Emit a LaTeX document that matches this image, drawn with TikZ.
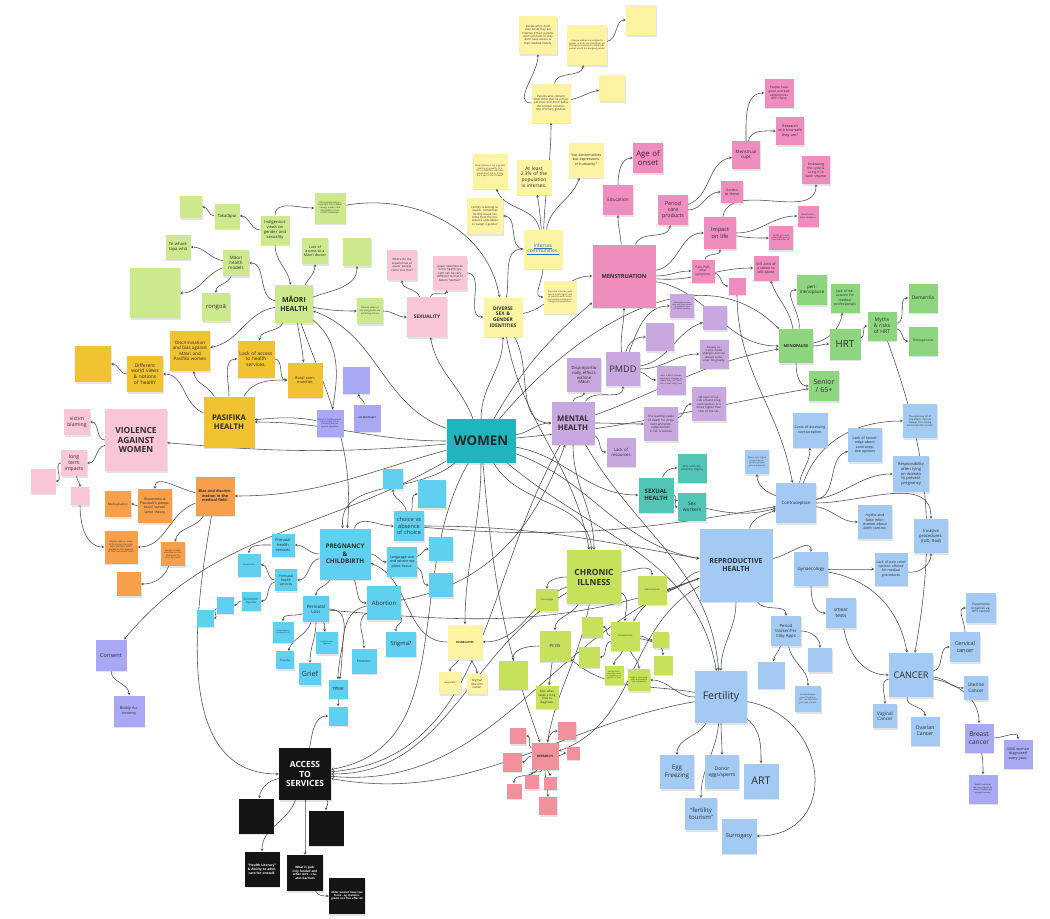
\documentclass[tikz,border=0pt]{standalone}
\usepackage{fontspec}
\setmainfont{Open Sans}
\usepackage{tikz}
\usetikzlibrary{arrows,shadows}

\definecolor{womenc}{HTML}{1FB5BF}
\definecolor{maoc}{HTML}{CDE98D}
\definecolor{pasc}{HTML}{F1C231}
\definecolor{vioc}{HTML}{F8C6D6}
\definecolor{orac}{HTML}{F7A04C}
\definecolor{purc}{HTML}{A9A8F5}
\definecolor{prgc}{HTML}{5FD0F0}
\definecolor{yelc}{HTML}{FCF3A3}
\definecolor{menc}{HTML}{EE8DBE}
\definecolor{mntc}{HTML}{C9A8DF}
\definecolor{sxhc}{HTML}{52C5B6}
\definecolor{mnpc}{HTML}{8ED580}
\definecolor{chrc}{HTML}{C6E25D}
\definecolor{resc}{HTML}{F1919C}
\definecolor{repc}{HTML}{A2CAF2}
\definecolor{brcc}{HTML}{A8A9F3}
\definecolor{linkc}{HTML}{2F6FC9}
\definecolor{inkc}{HTML}{2D2D2D}

\newcommand{\fs}[1]{\fontsize{#1}{\fpeval{1.18*#1}}\selectfont}

\pgfdeclarelayer{background}
\pgfsetlayers{background,main}

\begin{document}
\begin{tikzpicture}[x=0.5mm, y=-0.5mm,
    sz/.code={\pgfmathsetmacro\nsw{#1*0.5}\pgfmathsetmacro\ntw{#1*0.5-1.8}%
      \edef\nsopt{minimum width=\nsw mm,minimum height=\nsw mm,text width=\ntw mm}%
      \expandafter\tikzset\expandafter{\nsopt}},
    note/.style={rectangle, align=center, inner sep=0.9mm, text=inkc, font=\fs{3},
      drop shadow={shadow xshift=0.3mm, shadow yshift=-0.8mm, opacity=0.22}},
    mao/.style={fill=maoc}, pas/.style={fill=pasc}, vio/.style={fill=vioc},
    ora/.style={fill=orac}, pur/.style={fill=purc}, prg/.style={fill=prgc},
    yel/.style={fill=yelc}, men/.style={fill=menc}, mnt/.style={fill=mntc},
    sxh/.style={fill=sxhc}, mnp/.style={fill=mnpc}, chr/.style={fill=chrc},
    res/.style={fill=resc}, rep/.style={fill=repc}, brc/.style={fill=brcc},
    acc/.style={fill=black!92, text=white},
    link/.style={->, >=stealth, line width=0.8pt, draw=black!70}]

% Māori health
\node[note, mao, sz=38, font=\bfseries\fs{10}] (maori) at (294,304) {MĀORI\\HEALTH};
\node[note, mao, sz=26, font=\fs{6.3}] (models) at (236,263) {Māori health models};
\node[note, mao, sz=29, font=\fs{5.8}] (indig) at (275,230) {Indigenous views on gender and sexuality};
\node[note, mao, sz=25, font=\fs{6}] (taka) at (227,216) {Takatāpui};
\node[note, mao, sz=22] (takan) at (191,207) {};
\node[note, mao, sz=31, font=\fs{3.1}] (transn) at (330,208) {Trans people play an important role in Māori society, holders and transmitters of ancestral knowledge.};
\node[note, mao, sz=25, font=\fs{6}] (whare) at (178,247) {Te whare tapa whā};
\node[note, mao, sz=50] (bign) at (155,293) {};
\node[note, mao, sz=28, font=\fs{8.5}] (rongoa) at (216,307) {rongoā};
\node[note, mao, sz=26, font=\fs{5.2}] (doctor) at (315,251) {Lack of access to a Māori doctor};
\node[note, mao, sz=28] (greenn) at (357,252) {};
\node[note, mao, sz=26, font=\fs{3.2}] (colonial) at (370,311) {Colonial views on sex and gender are extremely binary};

% Pasifika health
\node[note, pas, sz=51, font=\bfseries\fs{11}] (pasifika) at (229,422) {PASIFIKA\\HEALTH};
\node[note, pas, sz=40, font=\fs{6.3}] (discrim) at (190,351) {Discrimination and bias against Māori and Pasifika women};
\node[note, pas, sz=37, font=\fs{7}] (lackacc) at (256,359) {Lack of access to health services.};
\node[note, pas, sz=35, font=\fs{5.5}] (rural) at (305,380) {Rural communities};
\node[note, pas, sz=36, font=\fs{7}] (views) at (145,374) {Different world views \& notions of ‘health’};
\node[note, pas, sz=36] (goldn) at (93,364) {};
\node[note, pur, sz=27, font=\fs{2.8}] (lowlife) at (330,423) {Māori \& Pasifika women have a lower life expectancy than the general population};
\node[note, pur, sz=27] (lifen) at (356,380) {};
\node[note, pur, sz=27, font=\bfseries\fs{3}] (lifeexp) at (367,418) {LIFE EXPECTANCY};

% Violence against women
\node[note, vio, sz=62, font=\bfseries\fs{12}] (violence) at (136,440) {VIOLENCE\\AGAINST\\WOMEN};
\node[note, vio, sz=26, font=\fs{7.3}] (victim) at (77,422) {victim blaming};
\node[note, vio, sz=26, font=\fs{7.2}] (longterm) at (74,463) {long term impacts};
\node[note, vio, sz=25] (vn1) at (43,481) {};
\node[note, vio, sz=18] (vn2) at (80,496) {};

% Bias in the medical field
\node[note, ora, sz=39, font=\bfseries\fs{5.4}] (bias) at (215,496) {Bias and discrimination in the medical field.};
\node[note, ora, sz=26, font=\fs{4.2}] (medical) at (118,504) {Medicalisation};
\node[note, ora, sz=34, font=\fs{5}] (biocit) at (155,506) {Biocitizens \& Foucault’s panopticon/ surveillance theory};
\node[note, ora, sz=33, font=\fs{3.1}] (caring) at (121,547) {Women take on more of the caring roles (children, parents), which literally on the expense of their own health often};
\node[note, ora, sz=24, font=\fs{3}] (dismiss) at (173,554) {Women’s health experiences often dismissed “it’s all in her head”};
\node[note, ora, sz=24] (hysteria) at (129,584) {};

% Consent
\node[note, pur, sz=31, font=\fs{8}] (consent) at (111,655) {Consent};
\node[note, pur, sz=31, font=\fs{5.5}] (bodily) at (129,711) {Bodily Autonomy};

% Pregnancy and childbirth
\node[note, prg, sz=51, font=\bfseries\fs{9}] (preg) at (345,554) {PREGNANCY\\\&\\CHILDBIRTH};
\node[note, prg, sz=30, font=\fs{8}] (choice) at (409,526) {choice vs absence of choice};
\node[note, prg, sz=20] (cn1) at (393,479) {};
\node[note, prg, sz=28] (cn2) at (432,494) {};
\node[note, prg, sz=23, font=\fs{5.6}] (prenatal) at (283,545) {Prenatal health services};
\node[note, prg, sz=23, font=\fs{3}] (obst) at (249,565) {obstetrician};
\node[note, prg, sz=22, font=\fs{4.8}] (perinat) at (286,580) {Perinatal health services};
\node[note, prg, sz=30, font=\fs{5.3}] (lang) at (402,562) {Language use and where we place focus.};
\node[note, prg, sz=24] (ln1) at (441,549) {};
\node[note, prg, sz=24] (ln2) at (441,585) {};
\node[note, prg, sz=19, font=\fs{4.2}] (injur) at (251,601) {Child birth injuries};
\node[note, prg, sz=17] (pn1) at (225,605) {};
\node[note, prg, sz=17] (pn2) at (205,618) {};
\node[note, prg, sz=26, font=\fs{6.3}] (loss) at (316,609) {Perinatal Loss};
\node[note, prg, sz=34, font=\fs{8.5}] (abort) at (384,603) {Abortion};
\node[note, prg, sz=21, font=\fs{2.7}] (social) at (283,632) {social support (or absence of)};
\node[note, prg, sz=22, font=\fs{2.8}] (medman) at (327,643) {Medical management};
\node[note, prg, sz=18, font=\fs{4}] (trauma) at (285,660) {Trauma};
\node[note, prg, sz=22, font=\fs{10}] (grief) at (310,674) {Grief};
\node[note, prg, sz=30, minimum height=12.5mm, font=\fs{8.2}] (stigma) at (401,644) {Stigma?};
\node[note, prg, sz=25, font=\fs{4.5}] (emot) at (364,661) {Emotions};
\node[note, prg, sz=19, font=\fs{6}] (tpmr) at (338,689) {TPMR};
\node[note, prg, sz=19] (tn) at (338,716) {};

% Disabilities
\node[note, yel, sz=35, font=\bfseries\fs{4}] (disab) at (465,642) {DISABILITIES};
\node[note, yel, sz=22, font=\fs{3}] (weight) at (450,683) {Weight/BMI};
\node[note, yel, sz=20, font=\fs{4.2}] (sdisc) at (477,684) {Stigma/\\Discrimi\\nation};

% Access to services
\node[note, acc, sz=52, font=\bfseries\fs{12}] (access) at (305,774) {ACCESS\\TO\\SERVICES};
\node[note, acc, sz=35] (an1) at (256,816) {};
\node[note, acc, sz=35] (an2) at (326,828) {};
\node[note, acc, sz=35, font=\bfseries\fs{4.6}] (literacy) at (262,869) {“Health Literacy” \& Ability to advocate for oneself.};
\node[note, acc, sz=36, font=\bfseries\fs{4.3}] (funded) at (305,873) {What is publicly funded and what isn’t - creates barriers};
\node[note, acc, sz=36, font=\bfseries\fs{3.8}] (older) at (347,896) {Older women have less focus - eg mammograms not free after 69};

% Diverse sex and gender identities
\node[note, yel, sz=39, font=\bfseries\fs{7}] (diverse) at (503,317) {DIVERSE\\SEX \&\\GENDER\\IDENTITIES};
\node[note, yel, sz=39, font=\fs{7}, text=linkc] (intersex) at (543,249) {\underline{Intersex}\\\underline{communities.}};
\node[note, yel, sz=33, font=\fs{3}] (youth) at (560,297) {Trans and intersex youth have a much higher rate of mental health issues and suicide compared to the general population.};
\node[note, yel, sz=36, font=\fs{4}] (fertres) at (485,216) {Fertility is lacking research. Sometimes fertility issues can come from the procedures undertaken to ‘assign a gender’};
\node[note, yel, sz=35, font=\fs{3}] (being) at (490,171) {Being intersex is not a gender identity or sexuality. It is the I in LGBTQIA+ but often people don’t feel as if they are a part of the ‘rainbow’};
\node[note, yel, sz=35, font=\fs{7}] (atleast) at (534,177) {At least 2.3\% of the population is intersex.};
\node[note, yel, sz=35, font=\fs{5}] (notabn) at (586,160) {“not abnormalities but expressions of humanity.”};
\node[note, yel, sz=39, font=\fs{4}] (parents) at (551,103) {Parents who consent often think that its a medical issue and dont realise the societal construction of binary genders.};
\node[note, yel, sz=38, font=\fs{4}] (peopleoft) at (538,35) {People often don’t even know they are intersex if their parents don’t tell them or they don’t have access to their medical history.};
\node[note, yel, sz=40, font=\fs{3.1}] (babies) at (587,45) {Intersex babies are assigned a gender at birth and sometimes go through procedures to make their bodies match the assigned gender};
\node[note, yel, sz=30] (in1) at (641,20) {};
\node[note, yel, sz=26] (in2) at (612,88) {};

% Sexuality
\node[note, vio, sz=40, font=\bfseries\fs{7}] (sexuality) at (427,317) {SEXUALITY};
\node[note, vio, sz=30, font=\fs{4.2}] (where) at (402,265) {Where do the experiences of queer people come into this?};
\node[note, vio, sz=34, font=\fs{4.2}] (queer) at (450,273) {queer experiences in the health system can be very different to that of hetero “women”};

% Women
\node[note, fill=womenc, minimum width=34.5mm, minimum height=22mm, font=\bfseries\fs{19}, text=black!85] (women) at (481,441) {WOMEN};

% Menstruation
\node[note, men, sz=63, font=\bfseries\fs{8}] (menstr) at (624,276) {MENSTRUATION};
\node[note, men, sz=30, font=\fs{6.5}] (educ) at (618,200) {Education};
\node[note, men, sz=30, font=\fs{11}] (onset) at (648,158) {Age of onset};
\node[note, men, sz=30, font=\fs{7.5}] (period) at (673,210) {Period care products};
\node[note, men, sz=28, font=\fs{6.2}] (cups) at (746,155) {Menstrual cups};
\node[note, men, sz=29, font=\fs{4.5}] (goodbad) at (779,93) {People have good and bad experiences with these};
\node[note, men, sz=28, font=\fs{5.2}] (safe) at (790,131) {Research into how safe they are?};
\node[note, men, sz=28, font=\fs{4.7}] (embrace) at (816,170) {Embracing the cycle \& using it to work smarter};
\node[note, men, sz=22, font=\fs{5.3}] (accthese) at (732,192) {Access to these};
\node[note, men, sz=21, font=\fs{3}] (leave) at (808,216) {Menstruation leave allowance};
\node[note, men, sz=32, font=\fs{8}] (impact) at (720,233) {Impact on life};
\node[note, men, sz=24, font=\fs{2.9}] (girls) at (781,238) {50,000 girls miss school because of their period in NZ};
\node[note, men, sz=25, font=\fs{5.1}] (taboo) at (766,268) {Still a bit of a taboo to talk about};
\node[note, men, sz=23, font=\fs{4.4}] (pain) at (703,271) {Pain, PMS, other symptoms};
\node[note, men, sz=17] (pk1) at (737,286) {};

% Mental health
\node[note, mnt, sz=43, font=\bfseries\fs{11}] (mental) at (573,423) {MENTAL\\HEALTH};
\node[note, mnt, sz=34, font=\fs{13}] (pmdd) at (623,369) {PMDD};
\node[note, mnt, sz=34, font=\fs{6}] (dispro) at (584,375) {Disproportio\\nally effects\\wahine\\Māori};
\node[note, mnt, sz=24, font=\fs{2.7}] (hist) at (682,306) {Historically women have not been valued in academia and not taken seriously};
\node[note, mnt, sz=24] (pp1) at (715,318) {};
\node[note, mnt, sz=28] (pp2) at (660,337) {};
\node[note, mnt, sz=29, font=\fs{4}] (extreme) at (714,354) {Causes extreme mood changes and can disrupt someones life greatly};
\node[note, mnt, sz=29, font=\fs{3}] (apro) at (671,380) {Apro 3-8\% of women experience changes so severe they can’t function in their daily lives};
\node[note, mnt, sz=34, font=\fs{4.4}] (leading) at (661,424) {The leading cause of death for pregnant and postnatal women in NZ is suicide};
\node[note, mnt, sz=34, font=\fs{4.2}] (nzlevel) at (709,404) {NZ level of suicide around pregnant women is 3 times higher than that of the UK.};
\node[note, mnt, sz=29, font=\fs{6}] (resources) at (621,452) {Lack of resources};

% Sexual health
\node[note, sxh, sz=35, font=\bfseries\fs{8.5}] (sexhealth) at (656,495) {SEXUAL\\HEALTH};
\node[note, sxh, sz=29, font=\fs{4}] (sti) at (692,468) {STI’s and controversy/ stigma};
\node[note, sxh, sz=28, font=\fs{7}] (sexwork) at (692,507) {Sex workers};

% Menopause
\node[note, mnp, sz=34, font=\bfseries\fs{5.6}] (menop) at (796,346) {MENOPAUSE};
\node[note, mnp, sz=30, font=\fs{6.3}] (peri) at (812,290) {peri-\\menopause};
\node[note, mnp, sz=29, font=\fs{5}] (lackedu) at (845,298) {lack of education for medical professionals};
\node[note, mnp, sz=31, font=\fs{14}] (hrt) at (845,344) {HRT};
\node[note, mnp, sz=29, font=\fs{7.3}] (myths) at (882,326) {Myths \& risks of HRT};
\node[note, mnp, sz=29, font=\fs{7}] (dementia) at (923,298) {Dementia};
\node[note, mnp, sz=29, font=\fs{4.7}] (osteo) at (923,341) {Osteoporosis};
\node[note, mnp, sz=30, font=\fs{10}] (senior) at (824,386) {Senior\\/ 65+};

% Reproductive health
\node[note, rep, sz=73, font=\bfseries\fs{10}] (repro) at (736,565) {REPRODUCTIVE\\HEALTH};
\node[note, rep, sz=40, font=\fs{6.2}] (contra) at (796,503) {Contraception};
\node[note, rep, sz=35, font=\fs{5.1}] (costs) at (810,430) {Costs of accessing contraception};
\node[note, rep, sz=34, font=\fs{3.4}] (sidefx) at (920,421) {The extensive list of side effects that can happen from taking hormonal birth control.};
\node[note, rep, sz=34, font=\fs{5.2}] (knowl) at (865,445) {Lack of knowledge about contraceptive options};
\node[note, rep, sz=24, font=\fs{2.9}] (shame) at (757,462) {Shame and stigma around sex, especially younger girls and women};
\node[note, rep, sz=36, font=\fs{5.7}] (resp) at (911,474) {Responsibility often lying on women to prevent pregnancy};
\node[note, rep, sz=34, font=\fs{5.3}] (mythsbc) at (875,522) {myths and false information about birth control.};
\node[note, rep, sz=34, font=\fs{6}] (invasive) at (931,536) {Invasive procedures. (IUD, Rod)};
\node[note, rep, sz=34, font=\fs{6.4}] (gyn) at (811,569) {Gynaecology};
\node[note, rep, sz=33, font=\fs{4.9}] (pain2) at (891,569) {Lack of pain relief options offered for medical procedures};
\node[note, rep, sz=30, font=\fs{7}] (smear) at (841,613) {smear tests};
\node[note, rep, sz=30, font=\fs{6}] (tracker) at (786,631) {Period tracker/Fer\\tility Apps};
\node[note, rep, sz=27] (tr1) at (771,675) {};
\node[note, rep, sz=24] (tr2) at (820,660) {};
\node[note, rep, sz=26, font=\fs{2.9}] (aware) at (808,699) {Increased awareness of bodily cycle - can help find your own normal.};
\node[note, rep, sz=52, font=\fs{15}] (fert) at (721,697) {Fertility};
\node[note, rep, sz=34, font=\fs{8.8}] (egg) at (677,772) {Egg Freezing};
\node[note, rep, sz=34, font=\fs{7}] (donor) at (722,772) {Donor eggs/sperm};
\node[note, rep, sz=35, font=\fs{15}] (art) at (761,781) {ART};
\node[note, rep, sz=32, font=\fs{8.5}] (tourism) at (701,814) {“fertility tourism”};
\node[note, rep, sz=35, font=\fs{8}] (surrog) at (739,836) {Surrogacy};

% Cancer
\node[note, rep, sz=44, font=\fs{13}] (cancer) at (911,675) {CANCER};
\node[note, rep, sz=30, font=\fs{4.4}] (prevent) at (981,608) {Preventative initiatives eg. HPV vaccine};
\node[note, rep, sz=30, font=\fs{7.8}] (cervical) at (965,647) {Cervical cancer};
\node[note, rep, sz=24, font=\fs{6.6}] (uterine) at (976,688) {Uterine Cancer};
\node[note, rep, sz=24, font=\fs{6.6}] (vaginal) at (885,716) {Vaginal Cancer};
\node[note, rep, sz=29, font=\fs{7.3}] (ovarian) at (925,731) {Ovarian Cancer};
\node[note, brc, sz=29, font=\fs{9.3}] (breast) at (979,738) {Breast cancer};
\node[note, brc, sz=29, font=\fs{5.2}] (b3300) at (1018,754) {3300 women diagnosed every year.};
\node[note, brc, sz=29, font=\fs{2.9}] (outcomes) at (983,789) {Health outcomes are much worse for Māori, Pasifika and younger women.};

% Chronic illness
\node[note, chr, sz=54, font=\bfseries\fs{12}] (chronic) at (594,577) {CHRONIC\\ILLNESS};
\node[note, chr, sz=22, font=\fs{3}] (fibro) at (547,600) {Fibromyalgia};
\node[note, chr, sz=29, font=\fs{3.4}] (adeno) at (652,590) {Adenomyosis};
\node[note, chr, sz=29, font=\fs{2.7}] (endo) at (625,636) {ENDOMETRIOSIS};
\node[note, chr, sz=31, font=\fs{6}] (pcos) at (555,646) {PCOS};
\node[note, chr, sz=21] (cg1) at (592,627) {};
\node[note, chr, sz=21] (cg2) at (589,657) {};
\node[note, chr, sz=16] (cg3) at (661,640) {};
\node[note, chr, sz=19] (cg4) at (663,665) {};
\node[note, chr, sz=19, font=\fs{2.4}] (avg) at (614,675) {Average time it takes from onset of symptoms to diagnosis is 7 years};
\node[note, chr, sz=22, font=\fs{2.7}] (endoinf) at (639,680) {Endo is associated with an increased risk of infertility};
\node[note, chr, sz=29] (pcosn) at (513,675) {};
\node[note, chr, sz=23, font=\fs{4.2}] (also) at (547,697) {Also often takes a long time to diagnose.};

% Research
\node[note, res, sz=27, font=\bfseries\fs{4.4}] (research) at (545,756) {RESEARCH};
\node[note, res, sz=16] (r1) at (518,736) {};
\node[note, res, sz=18] (r2) at (567,731) {};
\node[note, res, sz=13] (r3) at (573,753) {};
\node[note, res, sz=19] (r4) at (512,762) {};
\node[note, res, sz=14] (r5) at (532,782) {};
\node[note, res, sz=13] (r6) at (550,783) {};
\node[note, res, sz=15] (r7) at (514,791) {};
\node[note, res, sz=18] (r8) at (548,806) {};

\begin{pgfonlayer}{background}
\fill[white] (0,0) rectangle (1050,918);
\useasboundingbox (0,0) rectangle (1050,918);

% Māori links
\draw[link] (maori) to[out=170,in=0] (models);
\draw[link] (indig) to[out=-90,in=100] (maori);
\draw[link] (maori) to[out=60,in=-90] (doctor);
\draw[link] (indig) to[out=180,in=0] (taka);
\draw[link] (indig) to[out=90,in=180] (transn);
\draw[link] (taka) to[out=180,in=0] (takan);
\draw[link] (models) to[out=170,in=0] (whare);
\draw[link] (models) to[out=200,in=0] (bign);
\draw[link] (models) to[out=250,in=90] (rongoa);
\draw[link] (maori) to[out=20,in=-90] (greenn);
\draw[link] (maori) to[out=-10,in=180] (colonial);
\draw[link] (colonial) to[out=0,in=180] (sexuality);
\draw[link] (maori) to[out=190,in=10] (discrim);
\draw[link] (maori) to[out=240,in=80] (lackacc);
\draw[link] (maori) to[out=-80,in=95] (rural);
\draw[link] (maori) to[out=-40,in=80] (lowlife);
\draw[link] (maori) to[out=-70,in=85] (preg);
\draw[link] (transn) to[out=10,in=100] (diverse);

% Pasifika links
\draw[link] (pasifika) to[out=90,in=180] (lackacc);
\draw[link] (pasifika) to[out=60,in=180] (rural);
\draw[link] (lackacc) to[out=0,in=180] (rural);
\draw[link] (pasifika) to[out=120,in=-80] (discrim);
\draw[link] (pasifika) to[out=160,in=0] (views);
\draw[link] (views) to[out=180,in=0] (goldn);
\draw[link] (lowlife) to[out=170,in=5] (pasifika);
\draw[link] (lifeexp) to[out=100,in=-80] (lifen);

% Violence and bias links
\draw[link] (violence) to[out=180,in=0] (victim);
\draw[link] (violence) to[out=190,in=0] (longterm);
\draw[link] (longterm) to[out=180,in=0] (vn1);
\draw[link] (longterm) to[out=-80,in=90] (vn2);
\draw[link] (vn2) to[out=-90,in=180] (caring);
\draw[link] (bias) to[out=170,in=90] (biocit);
\draw[link] (biocit) to[out=180,in=0] (medical);
\draw[link] (bias) to[out=200,in=0] (caring);
\draw[link] (bias) to[out=240,in=80] (dismiss);
\draw[link] (dismiss) to[out=250,in=0] (hysteria);
\draw[link] (bias) to[out=-100,in=180] (access);
\draw[link] (consent) to[out=-90,in=90] (bodily);

% Women links
\draw[link] (women) to[out=160,in=-20] (maori);
\draw[link] (women) to[out=180,in=0] (pasifika);
\draw[link] (women) to[out=185,in=-5] (violence);
\draw[link] (women) to[out=195,in=0] (bias);
\draw[link] (women) to[out=210,in=50] (consent);
\draw[link] (women) to[out=220,in=95] (preg);
\draw[link] (women) to[out=-90,in=90] (disab);
\draw[link] (women) to[out=240,in=10] (access);
\draw[link] (women) to[out=90,in=-90] (diverse);
\draw[link] (women) to[out=110,in=-80] (sexuality);
\draw[link] (women) to[out=60,in=220] (menstr);
\draw[link] (women) to[out=10,in=180] (mental);
\draw[link] (women) to[out=-10,in=180] (sexhealth);
\draw[link] (women) to[out=5,in=190] (senior);
\draw[link] (women) to[out=50,in=135] (menop);
\draw[link] (women) to[out=-20,in=170] (repro);
\draw[link] (women) to[out=-40,in=100] (fert);
\draw[link] (women) to[out=-60,in=95] (chronic);
\draw[link] (women) to[out=-85,in=110] (research);

% Pregnancy links
\draw[link] (preg) to[out=70,in=180] (choice);
\draw[link] (preg) to[out=180,in=0] (prenatal);
\draw[link] (preg) to[out=190,in=0] (perinat);
\draw[link] (prenatal) to[out=180,in=90] (obst);
\draw[link] (perinat) to[out=180,in=0] (obst);
\draw[link] (perinat) to[out=190,in=0] (injur);
\draw[link] (injur) to[out=180,in=0] (pn1);
\draw[link] (pn1) to[out=200,in=0] (pn2);
\draw[link] (preg) to[out=0,in=180] (lang);
\draw[link] (lang) to[out=20,in=180] (ln1);
\draw[link] (lang) to[out=-20,in=180] (ln2);
\draw[link] (choice) to[out=100,in=-90] (cn1);
\draw[link] (choice) to[out=80,in=180] (cn2);
\draw[link] (choice) to[out=0,in=170] (repro);
\draw[link] (choice) to[out=-5,in=190] (contra);
\draw[link] (preg) to[out=240,in=90] (loss);
\draw[link] (preg) to[out=-70,in=180] (abort);
\draw[link] (loss) to[out=200,in=90] (social);
\draw[link] (loss) to[out=250,in=70] (trauma);
\draw[link] (loss) to[out=-90,in=90] (grief);
\draw[link] (loss) to[out=-60,in=100] (medman);
\draw[link] (loss) to[out=0,in=90] (tpmr);
\draw[link] (loss) to[out=-5,in=200] (repro);
\draw[link] (abort) to[out=-40,in=110] (stigma);
\draw[link] (abort) to[out=210,in=90] (emot);
\draw[link] (abort) to[out=190,in=80] (tpmr);
\draw[link] (abort) to[out=10,in=250] (mental);
\draw[link] (tpmr) to[out=-90,in=90] (tn);
\draw[link] (chronic) to[out=200,in=0] (disab);
\draw[link] (disab) to[out=180,in=-20] (preg);
\draw[link] (disab) to[out=250,in=90] (weight);
\draw[link] (disab) to[out=-70,in=90] (sdisc);

% Access links
\draw[link] (access) to[out=80,in=180] (tn);
\draw[link] (access) to[out=190,in=80] (an1);
\draw[link] (access) to[out=-50,in=90] (an2);
\draw[link] (access) to[out=250,in=90] (literacy);
\draw[link] (access) to[out=-90,in=90] (funded);
\draw[link] (funded) to[out=-60,in=180] (older);
\draw[link] (mental) to[out=240,in=5] (access);
\draw[link] (chronic) to[out=210,in=0] (access);
\draw[link] (repro) to[out=200,in=-5] (access);
\draw[link] (fert) to[out=190,in=-10] (access);

% Diverse and sexuality links
\draw[link] (diverse) to[out=80,in=180] (intersex);
\draw[link] (intersex) to[out=180,in=0] (fertres);
\draw[link] (intersex) to[out=100,in=-70] (being);
\draw[link] (intersex) to[out=95,in=-80] (atleast);
\draw[link] (intersex) to[out=80,in=-110] (notabn);
\draw[link] (intersex) to[out=88,in=-90] (parents);
\draw[link] (intersex) to[out=-90,in=180] (youth);
\draw[link] (parents) to[out=180,in=-90] (peopleoft);
\draw[link] (parents) to[out=80,in=-100] (babies);
\draw[link] (parents) to[out=10,in=190] (in2);
\draw[link] (babies) to[out=10,in=180] (in1);
\draw[link] (sexuality) to[out=110,in=-90] (where);
\draw[link] (sexuality) to[out=80,in=-100] (queer);
\draw[link] (queer) to[out=0,in=180] (diverse);
\draw[link] (diverse) to[out=-80,in=100] (chronic);
\draw[link] (diverse) to[out=-60,in=180] (mental);
\draw[link] (diverse) to[out=10,in=180] (menstr);

% Menstruation links
\draw[link] (pmdd) to[out=95,in=-90] (menstr);
\draw[link] (menstr) to[out=95,in=-90] (educ);
\draw[link] (educ) to[out=90,in=180] (onset);
\draw[link] (menstr) to[out=70,in=-100] (period);
\draw[link] (period) to[out=20,in=190] (cups);
\draw[link] (period) to[out=0,in=180] (accthese);
\draw[link] (cups) to[out=90,in=180] (goodbad);
\draw[link] (cups) to[out=80,in=180] (safe);
\draw[link] (menstr) to[out=10,in=180] (impact);
\draw[link] (impact) to[out=80,in=-90] (embrace);
\draw[link] (impact) to[out=0,in=180] (leave);
\draw[link] (impact) to[out=-10,in=180] (girls);
\draw[link] (menstr) to[out=0,in=180] (pain);
\draw[link] (pain) to[out=80,in=-90] (impact);
\draw[link] (pain) to[out=-10,in=180] (pk1);
\draw[link] (menstr) to[out=-5,in=180] (taboo);
\draw[link] (menstr) to[out=-10,in=180] (menop);
\draw[link] (pk1) to[out=-90,in=100] (contra);

% Mental health links
\draw[link] (mental) to[out=60,in=-90] (pmdd);
\draw[link] (mental) to[out=90,in=-90] (dispro);
\draw[link] (mental) to[out=0,in=180] (leading);
\draw[link] (leading) to[out=20,in=180] (nzlevel);
\draw[link] (mental) to[out=-30,in=180] (resources);
\draw[link] (mental) to[out=20,in=190] (menop);
\draw[link] (pmdd) to[out=70,in=180] (hist);
\draw[link] (pmdd) to[out=80,in=180] (pp2);
\draw[link] (pmdd) to[out=10,in=200] (pp1);
\draw[link] (pmdd) to[out=0,in=180] (extreme);
\draw[link] (pmdd) to[out=-10,in=180] (apro);
\draw[link] (sexhealth) to[out=70,in=180] (sti);
\draw[link] (sexhealth) to[out=0,in=180] (sexwork);
\draw[link] (sexhealth) to[out=-15,in=195] (contra);

% Menopause links
\draw[link] (menop) to[out=100,in=-70] (taboo);
\draw[link] (menop) to[out=80,in=180] (peri);
\draw[link] (menop) to[out=10,in=-100] (lackedu);
\draw[link] (menop) to[out=0,in=180] (hrt);
\draw[link] (hrt) to[out=20,in=180] (myths);
\draw[link] (myths) to[out=10,in=180] (dementia);
\draw[link] (myths) to[out=-10,in=180] (osteo);
\draw[link] (menop) to[out=-90,in=180] (senior);
\draw[link] (myths) to[out=-70,in=80] (cancer);

% Reproductive links
\draw[link] (repro) to[out=70,in=200] (contra);
\draw[link] (repro) to[out=10,in=90] (gyn);
\draw[link] (repro) to[out=-90,in=90] (fert);
\draw[link] (mental) to[out=-60,in=95] (fert);
\draw[link] (repro) to[out=-60,in=90] (tracker);
\draw[link] (tracker) to[out=250,in=80] (tr1);
\draw[link] (tracker) to[out=0,in=90] (tr2);
\draw[link] (tracker) to[out=-80,in=90] (aware);
\draw[link] (fert) to[out=240,in=90] (egg);
\draw[link] (fert) to[out=-95,in=90] (tourism);
\draw[link] (fert) to[out=-90,in=90] (donor);
\draw[link] (fert) to[out=-40,in=90] (art);
\draw[link] (fert) to[out=-10,in=0,looseness=1.6] (surrog);
\draw[link] (gyn) to[out=-90,in=180] (smear);
\draw[link] (gyn) to[out=0,in=180] (pain2);
\draw[link] (pain2) to[out=-10,in=-90] (invasive);
\draw[link] (gyn) to[out=-10,in=100] (cancer);
\draw[link] (smear) to[out=-80,in=180] (cancer);
\draw[link] (cancer) to[out=10,in=180] (cervical);
\draw[link] (cervical) to[out=90,in=180] (prevent);
\draw[link] (cancer) to[out=-5,in=180] (uterine);
\draw[link] (cancer) to[out=190,in=90] (vaginal);
\draw[link] (cancer) to[out=-100,in=90] (ovarian);
\draw[link] (cancer) to[out=-10,in=90] (breast);
\draw[link] (breast) to[out=0,in=90] (b3300);
\draw[link] (breast) to[out=-80,in=90] (outcomes);
\draw[link] (contra) to[out=80,in=-90] (costs);
\draw[link] (contra) to[out=160,in=-90] (shame);
\draw[link] (contra) to[out=70,in=180] (sidefx);
\draw[link] (contra) to[out=10,in=200] (knowl);
\draw[link] (contra) to[out=10,in=180] (resp);
\draw[link] (contra) to[out=-10,in=180] (mythsbc);
\draw[link] (contra) to[out=0,in=90] (invasive);

% Chronic illness links
\draw[link] (mental) to[out=-90,in=90] (chronic);
\draw[link] (chronic) to[out=180,in=90] (fibro);
\draw[link] (chronic) to[out=10,in=90] (adeno);
\draw[link] (chronic) to[out=-30,in=90] (endo);
\draw[link] (chronic) to[out=240,in=90] (pcos);
\draw[link] (endo) to[out=180,in=0] (cg1);
\draw[link] (endo) to[out=200,in=0] (cg2);
\draw[link] (endo) to[out=0,in=180] (cg3);
\draw[link] (endo) to[out=-10,in=90] (cg4);
\draw[link] (endo) to[out=-100,in=90] (avg);
\draw[link] (endo) to[out=-70,in=90] (endoinf);
\draw[link] (pcos) to[out=180,in=90] (pcosn);
\draw[link] (pcos) to[out=-100,in=80] (also);
\draw[link] (fert) to[out=170,in=-40] (pcos);
\draw[link] (fert) to[out=180,in=0] (endoinf);
\draw[link] (repro) to[out=190,in=0] (adeno);
\draw[link] (repro) to[out=200,in=60] (endo);

% Research links
\draw[link] (chronic) to[out=-100,in=80] (research);
\draw[link] (repro) to[out=210,in=20] (research);
\draw[link] (research) to[out=150,in=0] (r1);
\draw[link] (research) to[out=80,in=180] (r2);
\draw[link] (research) to[out=0,in=180] (r3);
\draw[link] (research) to[out=180,in=0] (r4);
\draw[link] (research) to[out=-100,in=90] (r5);
\draw[link] (research) to[out=-80,in=90] (r6);
\draw[link] (research) to[out=240,in=90] (r7);
\draw[link] (research) to[out=-90,in=90] (r8);
\end{pgfonlayer}

\end{tikzpicture}
\end{document}
